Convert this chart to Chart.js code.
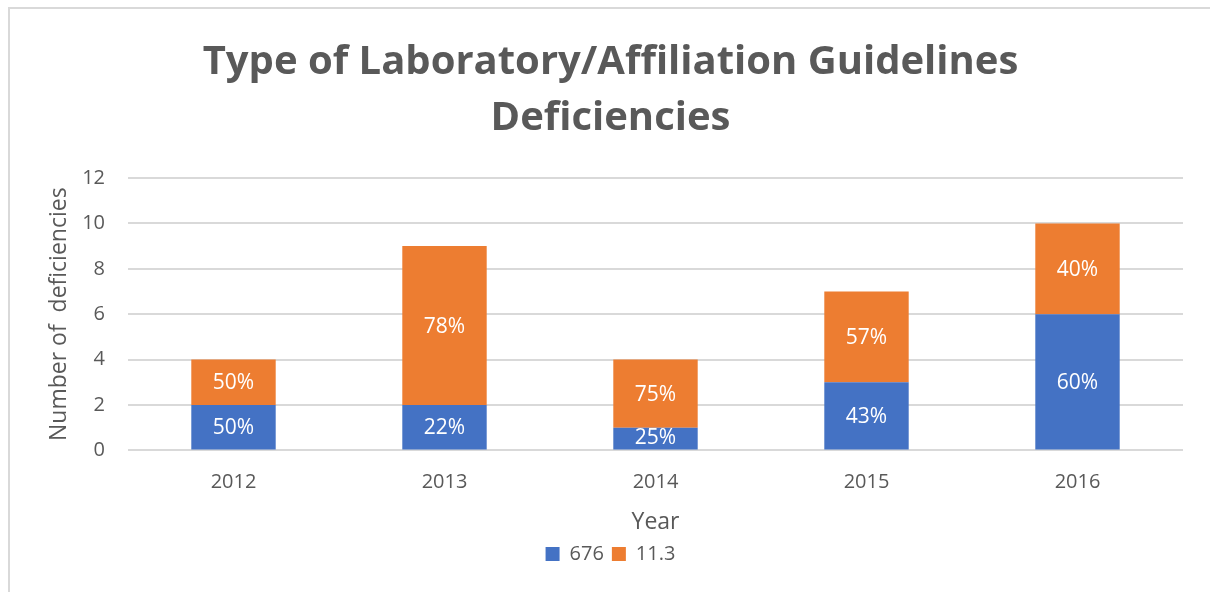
<!DOCTYPE html>
<html>
<head>
<meta charset="utf-8">
<script src="https://cdn.jsdelivr.net/npm/chart.js@4.4.1/dist/chart.umd.min.js"></script>
<style>
  html, body { margin: 0; padding: 0; background: #fff; }
  #wrap { position: relative; width: 1210px; height: 592px; overflow: hidden; }
  #frame { position: absolute; left: 8px; top: 7px; width: 1300px; height: 700px;
           border-top: 2px solid #d9d9d9; border-left: 2px solid #d9d9d9; box-sizing: border-box; }
  #chart { position: absolute; left: 0; top: 0; }
</style>
</head>
<body>
<div id="wrap">
  <div id="frame"></div>
  <canvas id="chart" width="1210" height="592"></canvas>
</div>
<script>
  var years = ['2012', '2013', '2014', '2015', '2016'];
  var series676 = [2, 2, 1, 3, 6];
  var series113 = [2, 7, 3, 4, 4];
  var yTicks = [0, 2, 4, 6, 8, 10, 12];

  var blue = '#4472C4';
  var orange = '#ED7D31';
  var textGrey = '#595959';
  var gridGrey = '#d9d9d9';
  var font = '"Open Sans", "Liberation Sans", sans-serif';

  function pct(value, i) {
    var total = series676[i] + series113[i];
    return Math.round(value / total * 100) + '%';
  }

  // draws the percentage labels in the middle of each stacked segment
  var segmentLabels = {
    id: 'segmentLabels',
    afterDatasetsDraw: function (chart) {
      var ctx = chart.ctx;
      ctx.save();
      ctx.fillStyle = '#ffffff';
      ctx.font = '21px ' + font;
      ctx.textAlign = 'center';
      ctx.textBaseline = 'middle';
      chart.data.datasets.forEach(function (ds, di) {
        chart.getDatasetMeta(di).data.forEach(function (bar, i) {
          var mid = (bar.y + bar.base) / 2;
          if (series676[i] === 1 && di === 0) {
            mid = bar.base - 12;
          }
          ctx.fillText(pct(ds.data[i], i), bar.x, mid + 1);
        });
      });
      ctx.restore();
    }
  };

  new Chart(document.getElementById('chart'), {
    type: 'bar',
    data: {
      labels: years,
      datasets: [
        { label: '676', data: series676, backgroundColor: blue, barPercentage: 0.8, categoryPercentage: 0.5 },
        { label: '11.3', data: series113, backgroundColor: orange, barPercentage: 0.8, categoryPercentage: 0.5 }
      ]
    },
    options: {
      responsive: false,
      animation: false,
      layout: { padding: { left: 38, right: 27, top: 35, bottom: 18 } },
      plugins: {
        title: {
          display: true,
          text: ['Type of Laboratory/Affiliation Guidelines', 'Deficiencies'],
          color: textGrey,
          font: { family: font, size: 40, weight: 'bold', lineHeight: 1.4 },
          padding: { top: 0, bottom: 31 }
        },
        legend: {
          position: 'bottom',
          labels: {
            color: textGrey,
            font: { family: font, size: 20 },
            boxWidth: 14,
            boxHeight: 14,
            padding: 8
          }
        },
        tooltip: { enabled: false }
      },
      scales: {
        x: {
          stacked: true,
          grid: { display: false },
          border: { display: false },
          ticks: { color: textGrey, font: { family: font, size: 20 }, padding: 12 },
          title: { display: true, text: 'Year', color: textGrey, font: { family: font, size: 23 }, padding: { top: 2, bottom: 0 } }
        },
        y: {
          stacked: true,
          min: 0,
          max: 12,
          afterBuildTicks: function (axis) {
            axis.ticks = yTicks.map(function (v) { return { value: v }; });
          },
          afterFit: function (axis) {
            axis.width = 90;
          },
          grid: { color: gridGrey, lineWidth: 2, drawTicks: false },
          border: { display: false },
          ticks: { color: textGrey, font: { family: font, size: 20 }, padding: 23 },
          title: { display: true, text: 'Number of  deficiencies', color: textGrey, font: { family: font, size: 23 }, padding: { top: 8, bottom: 0 } }
        }
      }
    },
    plugins: [segmentLabels]
  });
</script>
</body>
</html>
